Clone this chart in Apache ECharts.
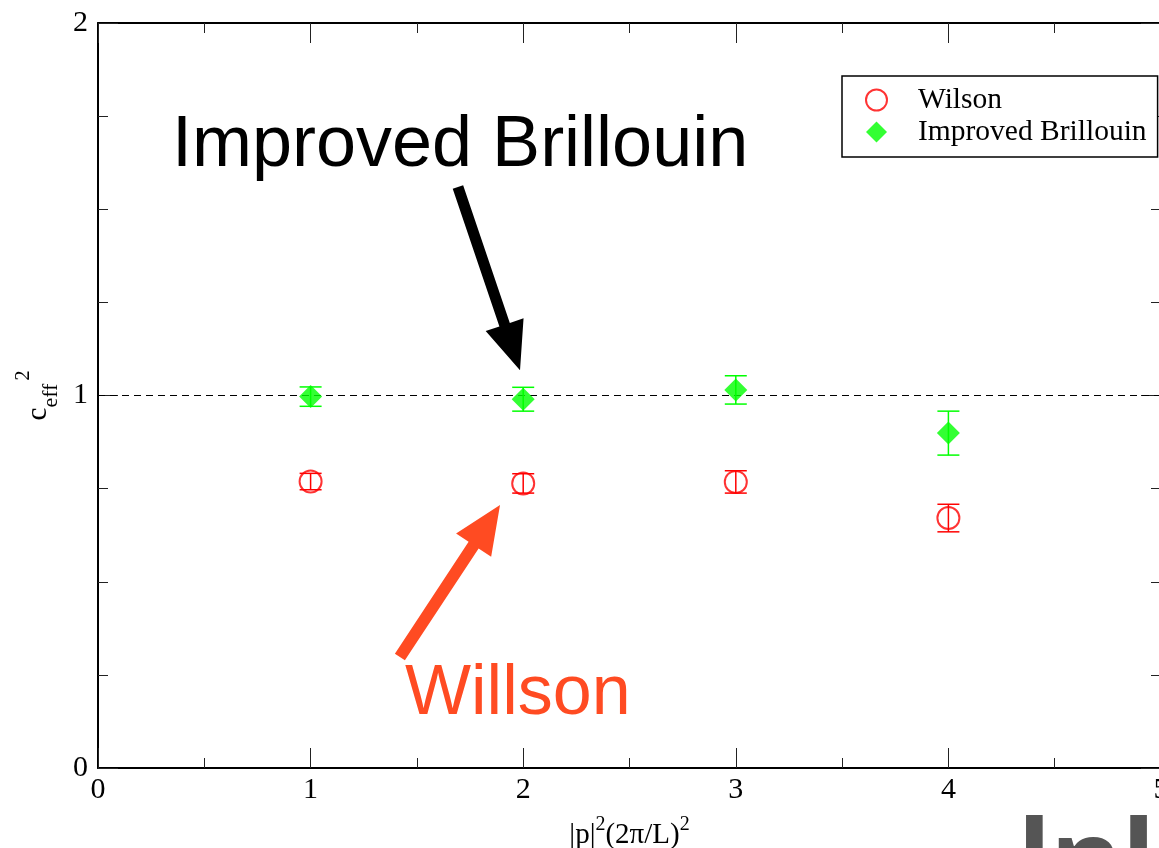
<!DOCTYPE html>
<html><head><meta charset="utf-8">
<script src="https://cdn.jsdelivr.net/npm/echarts@6/dist/echarts.min.js"></script>
<style>html,body{margin:0;padding:0;background:#fff}#c{width:1159px;height:848px}</style>
</head><body><div id="c"></div>
<script>
// ---- data ----
const xValues = [1, 2, 3, 4];
const wilsonY = [0.769, 0.764, 0.768, 0.671];
const wilsonErr = [0.022, 0.026, 0.030, 0.037];
const brillouinY = [0.997, 0.990, 1.015, 0.899];
const brillouinErr = [0.026, 0.032, 0.038, 0.059];
const xTickLabels = ['0', '1', '2', '3', '4', '5'];
const yTickLabels = ['0', '1', '2'];
const refLineY = 1;
const seriesNames = ['Wilson', 'Improved Brillouin'];

const serif = 'Liberation Serif, Times New Roman, serif';
const chart = echarts.init(document.getElementById('c'), null, {renderer: 'canvas'});

function errRender(color, hw) {
  return function (params, api) {
    const x = api.value(0), y = api.value(1), e = api.value(2);
    const t = api.coord([x, y + e]), b = api.coord([x, y - e]);
    const st = {stroke: color, lineWidth: 1.5};
    return {type: 'group', children: [
      {type: 'line', shape: {x1: t[0], y1: t[1], x2: b[0], y2: b[1]}, style: st},
      {type: 'line', shape: {x1: t[0] - hw, y1: t[1], x2: t[0] + hw, y2: t[1]}, style: st},
      {type: 'line', shape: {x1: b[0] - hw, y1: b[1], x2: b[0] + hw, y2: b[1]}, style: st}
    ]};
  };
}

function baseAxis(extra) {
  return Object.assign({
    type: 'value',
    splitLine: {show: false},
    axisLine: {show: true, onZero: false, lineStyle: {color: '#000', width: 2}},
    axisTick: {show: true, inside: true, length: 20, lineStyle: {color: '#222', width: 1}},
    minorSplitLine: {show: false}
  }, extra);
}

const xLabel = {
  show: true, margin: 7, color: '#000', fontFamily: serif, fontSize: 30,
  formatter: v => xTickLabels[Math.round(v)] ?? ''
};
const yLabel = {
  show: true, margin: 10, color: '#000', fontFamily: serif, fontSize: 30,
  formatter: v => yTickLabels[Math.round(v)] ?? ''
};

const option = {
  backgroundColor: '#fff',
  animation: false,
  grid: {left: 98, right: -2, top: 23, bottom: 80, containLabel: false, outerBoundsMode: 'none'},
  legend: {
    data: [
      {name: seriesNames[0]},
      {name: seriesNames[1], icon: 'diamond', itemStyle: {color: '#00ff00'}}
    ],
    orient: 'vertical', left: 842, top: 76,
    padding: [9, 11, 10, 23], itemGap: 2, itemWidth: 21, itemHeight: 21,
    borderColor: '#000', borderWidth: 1.5, backgroundColor: '#fff',
    textStyle: {fontFamily: serif, fontSize: 29.5, color: '#000', padding: [0, 0, 0, 26]}
  },
  xAxis: [
    baseAxis({position: 'bottom', min: 0, max: 5, interval: 1,
      minorTick: {show: true, splitNumber: 2, length: 10, lineStyle: {color: '#222', width: 1}},
      axisLabel: xLabel,
      name: '|p|{sup|2}(2π/L){sup|2}', nameLocation: 'middle', nameGap: 47,
      nameTextStyle: {fontFamily: serif, fontSize: 29, color: '#000', lineHeight: 40,
        rich: {sup: {fontFamily: serif, fontSize: 20, color: '#000', lineHeight: 40, verticalAlign: 'top'}}}
    }),
    baseAxis({position: 'top', min: 0, max: 5, interval: 1,
      minorTick: {show: true, splitNumber: 2, length: 10, lineStyle: {color: '#222', width: 1}},
      axisLabel: {show: false}})
  ],
  yAxis: [
    baseAxis({position: 'left', min: 0, max: 2, interval: 1,
      minorTick: {show: true, splitNumber: 4, length: 10, lineStyle: {color: '#222', width: 1}},
      axisLabel: yLabel,
      name: '{c|c}{sub|eff}{sup|2}', nameLocation: 'middle', nameRotate: 90, nameGap: 30,
      nameTextStyle: {fontFamily: serif, color: '#000',
        rich: {
          c: {fontFamily: serif, fontSize: 29, color: '#000', lineHeight: 48, verticalAlign: 'middle'},
          sub: {fontFamily: serif, fontSize: 22, color: '#000', lineHeight: 48, verticalAlign: 'bottom'},
          sup: {fontFamily: serif, fontSize: 20, color: '#000', lineHeight: 48, verticalAlign: 'top', padding: [0, 0, 0, 3]}
        }}
    }),
    baseAxis({position: 'right', min: 0, max: 2, interval: 1,
      minorTick: {show: true, splitNumber: 4, length: 10, lineStyle: {color: '#222', width: 1}},
      axisLabel: {show: false}})
  ],
  series: [
    {name: 'ref', type: 'line', data: [[0, refLineY], [5, refLineY]], symbol: 'none', silent: true, z: 1,
      lineStyle: {color: '#000', width: 1.2, type: [7, 5]}},
    {name: 'Wilson', type: 'scatter', data: xValues.map((x, i) => [x, wilsonY[i]]),
      symbol: 'emptyCircle', symbolSize: 22, z: 3,
      itemStyle: {color: '#ff0000', borderColor: '#ff0000', borderWidth: 1.5}},
    {name: 'Improved Brillouin', type: 'scatter', data: xValues.map((x, i) => [x, brillouinY[i]]),
      symbol: 'diamond', symbolSize: 23, z: 5, itemStyle: {color: '#00ff00'}},
    {name: 'Wilson', type: 'custom', renderItem: errRender('#ff0000', 11), z: 4, silent: true,
      data: xValues.map((x, i) => [x, wilsonY[i], wilsonErr[i]]), encode: {x: 0, y: 1}},
    {name: 'Improved Brillouin', type: 'custom', renderItem: errRender('#00ff00', 11), z: 2, silent: true,
      data: xValues.map((x, i) => [x, brillouinY[i], brillouinErr[i]]), encode: {x: 0, y: 1}}
  ]
};
chart.setOption(option);

// ---- annotations (anchored in data space) ----
function arrowPoints(tail, tip, sw, hw, hl) {
  const dx = tip[0] - tail[0], dy = tip[1] - tail[1];
  const len = Math.hypot(dx, dy), ux = dx / len, uy = dy / len, px = -uy, py = ux;
  const bx = tip[0] - ux * hl, by = tip[1] - uy * hl;
  return [
    [tail[0] + px * sw / 2, tail[1] + py * sw / 2],
    [bx + px * sw / 2, by + py * sw / 2],
    [bx + px * hw / 2, by + py * hw / 2],
    [tip[0], tip[1]],
    [bx - px * hw / 2, by - py * hw / 2],
    [bx - px * sw / 2, by - py * sw / 2],
    [tail[0] - px * sw / 2, tail[1] - py * sw / 2]
  ];
}
const P = p => chart.convertToPixel({gridIndex: 0}, p);
const ibText = P([0.348, 1.670]);
const wText = P([1.444, 0.198]);
const blackArrow = arrowPoints(P([1.693, 1.560]), P([1.985, 1.068]), 11, 40, 48);
const redArrow = arrowPoints(P([1.420, 0.298]), P([1.891, 0.706]), 12, 42, 48);

chart.setOption({graphic: [
  {type: 'text', x: ibText[0], y: ibText[1], z: 10,
    style: {text: 'Improved Brillouin', fill: '#000', fontFamily: 'Liberation Sans, Arial, sans-serif', fontSize: 72, align: 'left', verticalAlign: 'middle'}},
  {type: 'text', x: wText[0], y: wText[1], z: 10,
    style: {text: 'Willson', fill: '#ff4b22', fontFamily: 'Liberation Sans, Arial, sans-serif', fontSize: 70, align: 'left', verticalAlign: 'middle'}},
  {type: 'polygon', z: 10, shape: {points: blackArrow}, style: {fill: '#000'}},
  {type: 'polygon', z: 10, shape: {points: redArrow}, style: {fill: '#ff4b22'}},
  {type: 'text', x: 1018, y: 867, z: 10,
    style: {text: 'lnl', fill: '#555', fontFamily: 'Noto Sans, sans-serif', fontWeight: 'bold', fontSize: 110, align: 'left', verticalAlign: 'middle'}}
]});
</script>
</body></html>
